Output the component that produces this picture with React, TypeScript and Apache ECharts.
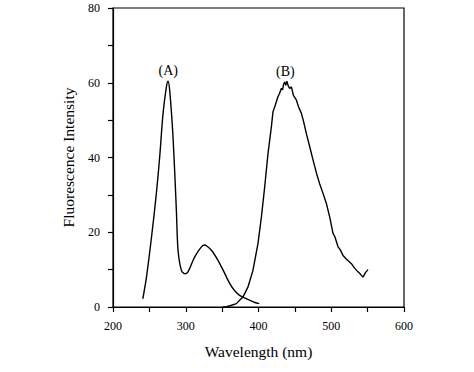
import React, { useEffect, useRef } from "react";
import * as echarts from "echarts";

// Curve (A): excitation spectrum [wavelength, intensity]
const curveA: [number, number][] = [
  [241, 2.2], [246, 8], [253, 18.8], [259.6, 30.4], [264.2, 40.2], [268.8, 51.8],
  [273.4, 58.9], [275.6, 60.4], [277.9, 58], [282.5, 45.5], [287.1, 25.9],
  [289.4, 15.2], [294, 9.8], [298.6, 8.9], [303.1, 9.4], [312.3, 13.4],
  [321.5, 16.1], [326, 16.6], [328.4, 16.4], [335.3, 15.2], [344.3, 12.5],
  [352, 9.6], [360.4, 6.3], [367, 4.4], [374, 3.1], [380, 2.5], [388, 1.8],
  [395, 1.2], [401, 0.9],
];

// Curve (B): emission spectrum [wavelength, intensity]
const curveB: [number, number][] = [
  [351, 0], [356, 0.1], [362, 0.4], [369.6, 0.9], [374, 1.8], [378.7, 2.7],
  [385.6, 5.4], [392.4, 9.8], [399.3, 17], [404, 24.1], [408.5, 32.1],
  [413.1, 41.1], [417.7, 48.2], [419.9, 52.2], [423, 54], [426.8, 56.3],
  [429, 57.2], [431.5, 58.5], [433, 58.1], [434.5, 59.6], [436, 60.2],
  [437.5, 59.3], [439, 60.4], [441, 59.1], [442.9, 58.5], [445.2, 58.9],
  [448, 56.6], [452, 55.4], [455, 53.6], [459, 51.8], [462, 49.6],
  [465.8, 46.4], [470, 43.2], [475, 39.3], [480, 35.6], [484, 33],
  [488, 30.8], [493.3, 27.7], [498, 24], [502.4, 19.7], [505, 18.8],
  [509.3, 16.1], [512, 15.4], [516.2, 13.8], [521, 12.8], [527.7, 11.6],
  [532, 10.4], [536.8, 9.4], [540, 8.8], [543.6, 8], [547, 9.2], [550.5, 10],
];

const xTicks = { min: 200, max: 600, step: 50, labelEvery: 100 };
const yTicks = { min: 0, max: 80, step: 10, labelEvery: 20 };

const labelA = { text: "(A)", at: [276, 60.4] };
const labelB = { text: "(B)", at: [437, 60.2] };

const FONT = "Liberation Serif";

export default function App() {
  const ref = useRef<HTMLDivElement>(null);
  useEffect(() => {
    if (!ref.current) return;
    const chart = echarts.init(ref.current, undefined, { renderer: "svg" });
    const lineStyle = { color: "#000", width: 1.4 };
    const mp = (l: { text: string; at: number[] }) => ({
      symbol: "circle",
      symbolSize: 0,
      silent: true,
      label: {
        show: true,
        position: "top",
        distance: 4,
        formatter: l.text,
        color: "#000",
        fontFamily: FONT,
        fontSize: 14,
      },
      data: [{ coord: l.at, value: l.text }],
    });
    chart.setOption({
      animation: false,
      backgroundColor: "#fff",
      grid: {
        left: 113,
        right: 70,
        top: 8,
        bottom: 65,
        show: true,
        borderColor: "#000",
        borderWidth: 1.2,
        containLabel: false,
      },
      xAxis: {
        type: "value",
        min: xTicks.min,
        max: xTicks.max,
        interval: xTicks.step,
        name: "Wavelength (nm)",
        nameLocation: "middle",
        nameGap: 36,
        nameTextStyle: { color: "#000", fontFamily: FONT, fontSize: 15.5 },
        axisLine: { show: true, lineStyle: { color: "#000", width: 1.2 } },
        axisTick: { show: true, inside: false, length: 5, lineStyle: { color: "#000", width: 1.2 } },
        axisLabel: {
          color: "#000",
          fontFamily: FONT,
          fontSize: 12,
          margin: 13,
          formatter: (v: number) => (v % xTicks.labelEvery === 0 ? String(v) : ""),
        },
        splitLine: { show: false },
      },
      yAxis: {
        type: "value",
        min: yTicks.min,
        max: yTicks.max,
        interval: yTicks.step,
        name: "Fluorescence Intensity",
        nameLocation: "middle",
        nameGap: 37,
        nameTextStyle: { color: "#000", fontFamily: FONT, fontSize: 15.5 },
        axisLine: { show: true, lineStyle: { color: "#000", width: 1.2 } },
        axisTick: { show: true, inside: false, length: 5, lineStyle: { color: "#000", width: 1.2 } },
        axisLabel: {
          color: "#000",
          fontFamily: FONT,
          fontSize: 12,
          margin: 13,
          formatter: (v: number) => (v % yTicks.labelEvery === 0 ? String(v) : ""),
        },
        splitLine: { show: false },
      },
      series: [
        {
          type: "line",
          data: curveA,
          showSymbol: false,
          smooth: 0.3,
          lineStyle,
          itemStyle: { color: "#000" },
          markPoint: mp(labelA),
        },
        {
          type: "line",
          data: curveB,
          showSymbol: false,
          smooth: false,
          lineStyle,
          itemStyle: { color: "#000" },
          markPoint: mp(labelB),
        },
      ],
    });
    return () => chart.dispose();
  }, []);
  return (
    <div
      ref={ref}
      style={{ position: "fixed", left: 0, top: 0, width: 474, height: 372 }}
    />
  );
}
